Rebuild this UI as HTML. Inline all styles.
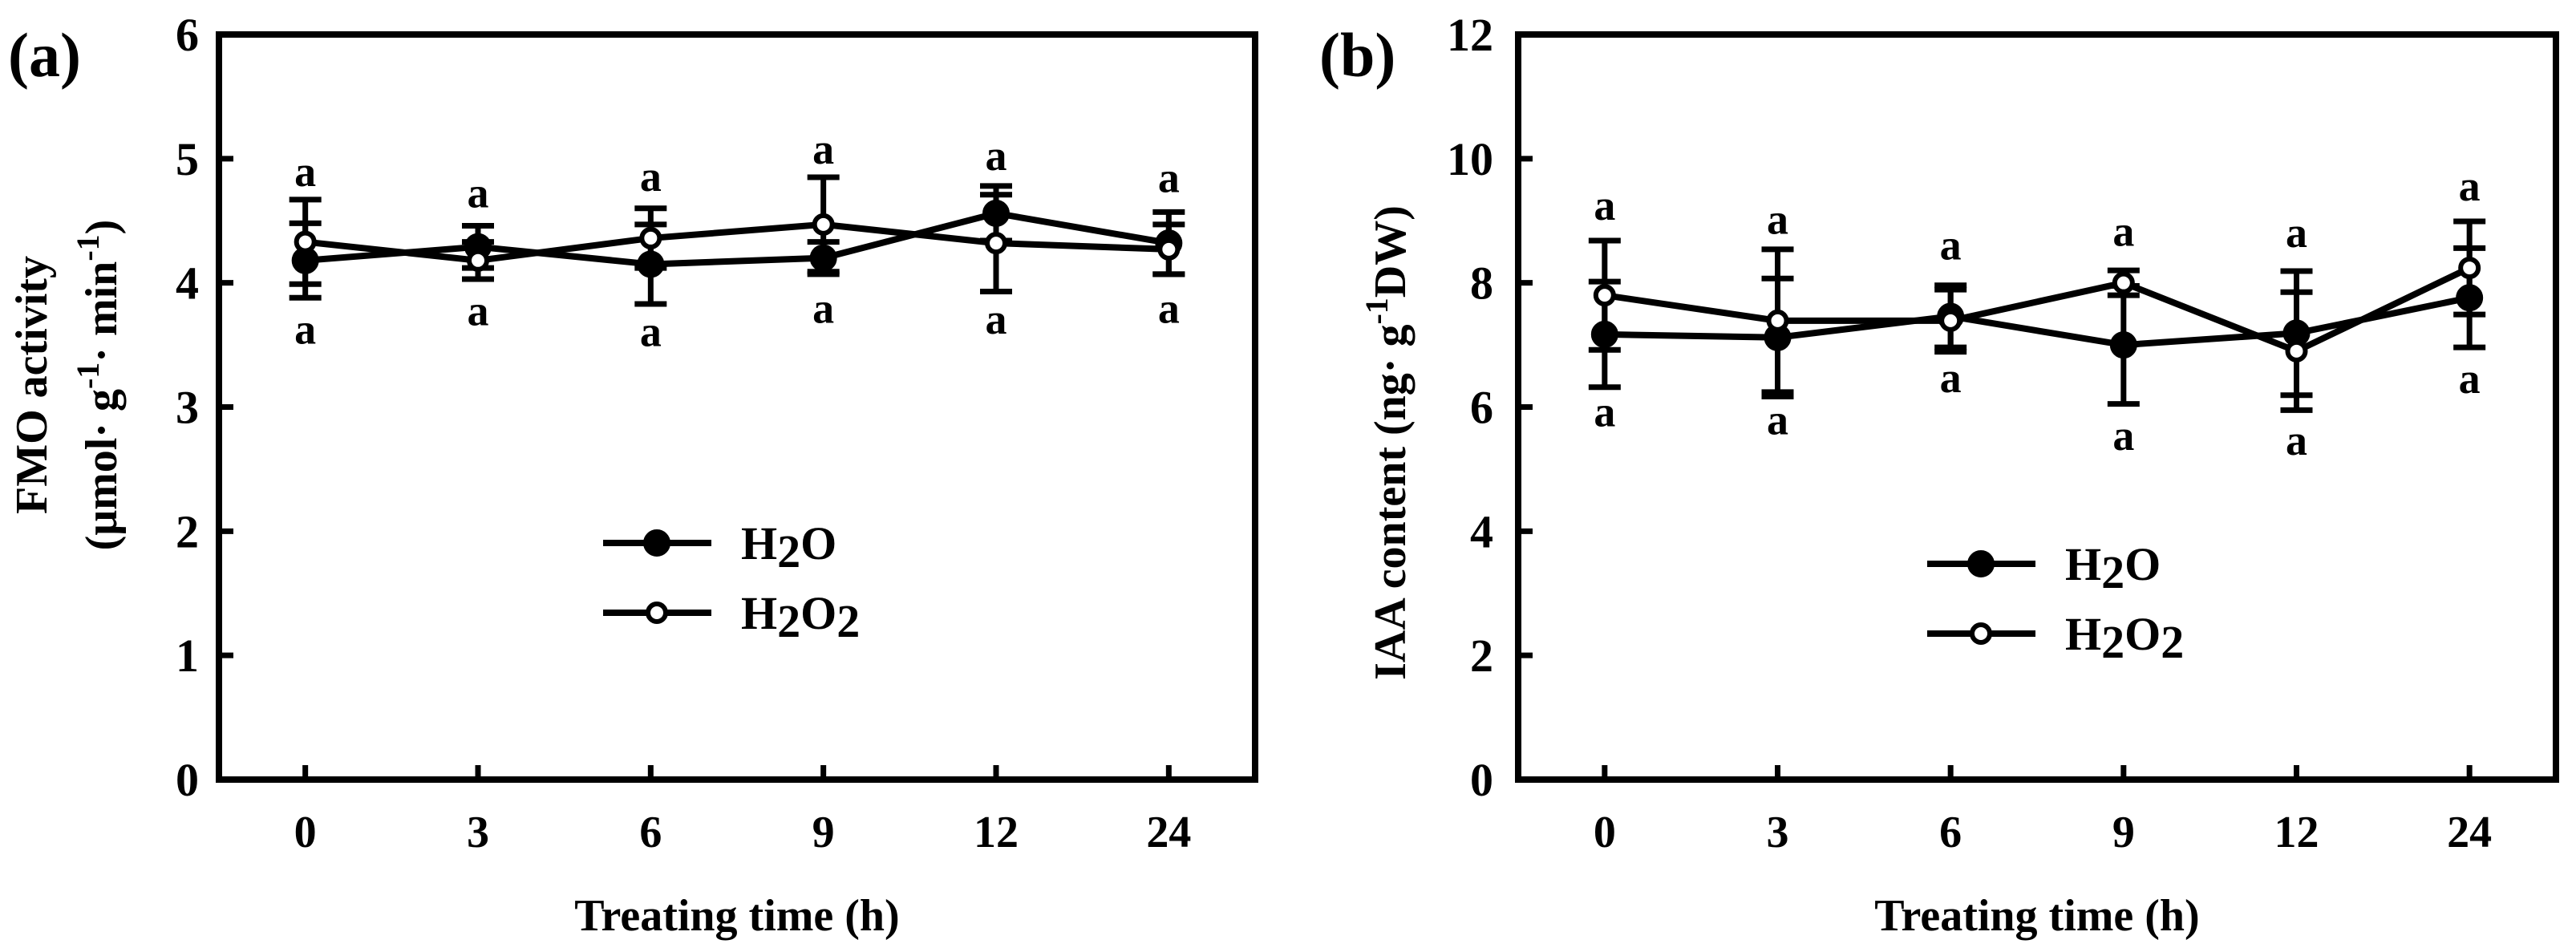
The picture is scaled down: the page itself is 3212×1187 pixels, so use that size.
<!DOCTYPE html>
<html><head><meta charset="utf-8"><style>
html,body{margin:0;padding:0;background:#fff}
svg{display:block;font-family:"Liberation Serif",serif;font-weight:bold}
</style></head><body>
<svg id="fig" width="3212" height="1187" viewBox="0 0 3212 1187" xmlns="http://www.w3.org/2000/svg"></svg>
<script>
const categories = ["0","3","6","9","12","24"];
// Panel a: FMO activity
const aH2O = [4.18,4.29,4.15,4.20,4.56,4.32];
const aH2OErr = [0.30,0.17,0.32,0.13,0.22,0.25];
const aH2O2 = [4.33,4.18,4.36,4.47,4.32,4.27];
const aH2O2Err = [0.34,0.15,0.24,0.38,0.39,0.20];
const aTopLetters = [4.87,4.70,4.83,5.05,5.00,4.82];
const aBotLetters = [3.60,3.75,3.58,3.77,3.68,3.77];
const aTicks = [0,1,2,3,4,5,6];
// Panel b: IAA content
const bH2O = [7.17,7.12,7.46,7.00,7.19,7.76];
const bH2OErr = [0.85,0.95,0.50,0.95,1.00,0.80];
const bH2O2 = [7.80,7.39,7.39,8.00,6.90,8.24];
const bH2O2Err = [0.88,1.15,0.50,0.20,0.95,0.75];
const bTopLetters = [9.20,8.97,8.56,8.78,8.76,9.51];
const bBotLetters = [5.87,5.74,6.42,5.49,5.41,6.41];
const bTicks = [0,2,4,6,8,10,12];

const NS="http://www.w3.org/2000/svg";
const svg=document.getElementById('fig');
function mk(tag,attrs,parent){const e=document.createElementNS(NS,tag);for(const k in attrs)e.setAttribute(k,attrs[k]);(parent||svg).appendChild(e);return e;}

function panel(o){
  const g=mk('g',{});
  
  
  const L=o.left,R=o.right,T=43,B=972;
  const band=(R-L)/categories.length;
  const x=i=>L+band*(i+0.5);
  const y=v=>B-(v-o.ymin)/(o.ymax-o.ymin)*(B-T);
  const frame=mk('rect',{x:L,y:T,width:R-L,height:B-T,fill:'none',stroke:'#000','stroke-width':8},g);
  
  
  o.ticks.forEach(t=>{
    const tk=mk('line',{x1:L,x2:L+18,y1:y(t),y2:y(t),stroke:'#000','stroke-width':7},g);
    
    
    const tl=mk('text',{x:o.ylabX,y:y(t)+20,'text-anchor':'end','font-size':58},g);
    tl.textContent=t;
    
    
  });
  categories.forEach((c,i)=>{
    const tk=mk('line',{x1:x(i),x2:x(i),y1:B,y2:B-18,stroke:'#000','stroke-width':7},g);
    
    
    const tl=mk('text',{x:x(i),y:1056,'text-anchor':'middle','font-size':56},g);
    tl.textContent=c;
    
    
  });
  function series(vals,errs,fill,nm){
    errs.forEach((e,i)=>{
      const eb=mk('path',{d:`M${x(i)} ${y(vals[i]+e)}V${y(vals[i]-e)}M${x(i)-20} ${y(vals[i]+e)}H${x(i)+20}M${x(i)-20} ${y(vals[i]-e)}H${x(i)+20}`,stroke:'#000','stroke-width':7,fill:'none'},g);
      
      
    });
    const ln=mk('polyline',{points:vals.map((v,i)=>x(i)+','+y(v)).join(' '),fill:'none',stroke:'#000','stroke-width':8,'stroke-linejoin':'round'},g);
    
    
    vals.forEach((v,i)=>{
      const p=mk('circle',{cx:x(i),cy:y(v),r:fill==='#000'?14:11,fill:fill,stroke:'#000','stroke-width':6},g);
      
      
    });
  }
  series(o.h2o,o.h2oErr,'#000','h2o');
  series(o.h2o2,o.h2o2Err,'#fff','h2o2');
  [o.top,o.bot].forEach(arr=>arr.forEach((v,i)=>{
    const t=mk('text',{x:x(i),y:y(v)+14,'text-anchor':'middle','font-size':54},g);
    t.textContent='a';
    
    
  }));
  const lg=mk('g',{},g);
  
  
  [[o.legY,'#000'],[o.legY+87,'#fff']].forEach((d,k)=>{
    const ln=mk('line',{x1:o.legX,x2:o.legX+135,y1:d[0],y2:d[0],stroke:'#000','stroke-width':8},lg);
    
    
    const c=mk('circle',{cx:o.legX+67,cy:d[0],r:k?11:14,fill:d[1],stroke:'#000','stroke-width':6},lg);
    
    
    const t=mk('text',{x:o.legX+172,y:d[0]+20,'font-size':58,'font-family':'Liberation Serif, serif','font-weight':'bold'},lg);
    
    
    t.innerHTML=`H<tspan dy="10">2</tspan><tspan dy="-10">O</tspan>`+(k?`<tspan dy="10">2</tspan>`:'');
  });
  const xt=mk('text',{x:(L+R)/2,y:1160,'text-anchor':'middle','font-size':56},g);
  xt.textContent='Treating time (h)';
  
  
  const pl=mk('text',{x:o.plX,y:95,'font-size':78},g);
  pl.textContent=o.plabel;
  
  
  return g;
}
panel({name:'panel-a-fmo',left:273,right:1565,ymin:0,ymax:6,ticks:aTicks,ylabX:248,h2o:aH2O,h2oErr:aH2OErr,h2o2:aH2O2,h2o2Err:aH2O2Err,top:aTopLetters,bot:aBotLetters,legX:752,legY:677,plX:10,plabel:'(a)'});
panel({name:'panel-b-iaa',left:1893,right:3187,ymin:0,ymax:12,ticks:bTicks,ylabX:1862,h2o:bH2O,h2oErr:bH2OErr,h2o2:bH2O2,h2o2Err:bH2O2Err,top:bTopLetters,bot:bBotLetters,legX:2403,legY:703,plX:1645,plabel:'(b)'});

const ya=mk('text',{transform:'translate(58,480) rotate(-90)','text-anchor':'middle','font-size':56});
ya.textContent='FMO activity';


const ya2=mk('text',{transform:'translate(145,480) rotate(-90)','text-anchor':'middle','font-size':56});
ya2.innerHTML='(μmol· g<tspan dy="-22" font-size="40">-1</tspan><tspan dy="22">·  min</tspan><tspan dy="-22" font-size="40">-1</tspan><tspan dy="22">)</tspan>';


const yb=mk('text',{transform:'translate(1752,552) rotate(-90)','text-anchor':'middle','font-size':56});
yb.innerHTML='IAA content (ng· g<tspan dy="-22" font-size="40">-1</tspan><tspan dy="22">DW)</tspan>';


</script>
</body></html>
